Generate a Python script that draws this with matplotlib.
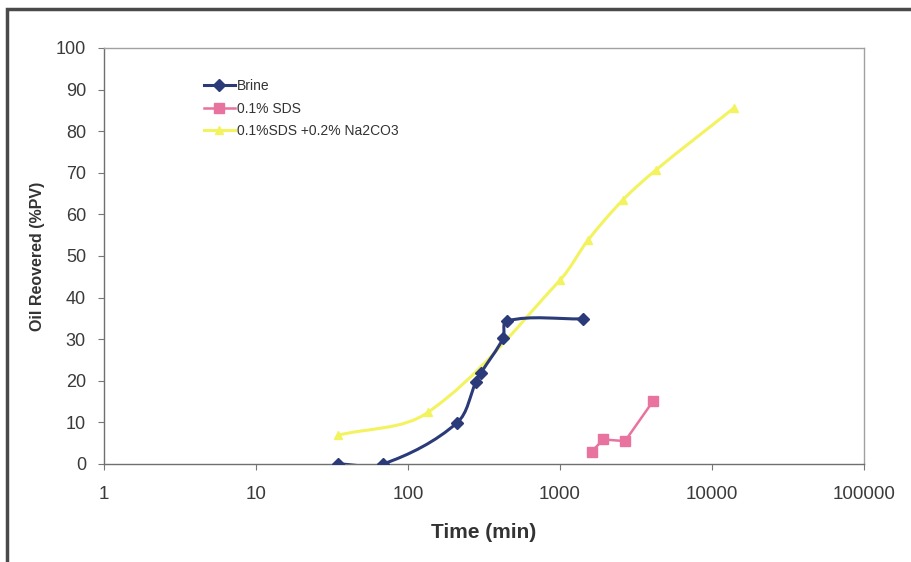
import numpy as np
import matplotlib
matplotlib.use('Agg')
import matplotlib.pyplot as plt
from matplotlib.path import Path
from matplotlib.patches import PathPatch, Rectangle
from matplotlib.lines import Line2D

plt.rcParams['font.family'] = ['Liberation Sans', 'DejaVu Sans']

# Data
brine_t = [34.6, 68.5, 210, 280, 302, 422, 448, 1417]
brine_r = [0.0, 0.0, 9.9, 19.7, 21.9, 30.2, 34.4, 34.9]
sds_t = [1617, 1928, 2677, 4111]
sds_r = [3.0, 5.9, 5.5, 15.2]
mix_t = [34.6, 135, 1000, 1528, 2596, 4285, 13960]
mix_r = [6.9, 12.4, 44.2, 53.8, 63.5, 70.7, 85.6]

labels = ['Brine', '0.1% SDS', '0.1%SDS +0.2% Na2CO3']
xticks = [1, 10, 100, 1000, 10000, 100000]
yticks = list(range(0, 101, 10))

c_brine = '#2b3a78'
c_sds = '#e8739f'
c_mix = '#f3f360'

W, H = 912, 562
fig = plt.figure(figsize=(W / 100, H / 100), dpi=100)
fig.patch.set_facecolor('white')
ax = fig.add_axes([104 / W, 1 - 464 / H, 760 / W, 416 / H])
ax.set_xscale('log')
ax.set_xlim(1, 100000)
ax.set_ylim(0, 100)

SX, SY = 152.0, 4.16


def smooth_path(xs, ys):
    u = np.log10(np.asarray(xs, float)) * SX
    v = np.asarray(ys, float) * SY
    P = np.column_stack([u, v])
    n = len(P)

    def unit(d):
        m = np.hypot(*d)
        return d / m if m > 0 else d

    tang = []
    for i in range(n):
        a = P[i - 1] if i > 0 else P[i]
        b = P[i + 1] if i < n - 1 else P[i]
        tang.append(unit(b - a))
    verts = [P[0]]
    codes = [Path.MOVETO]
    for i in range(n - 1):
        p1, p2 = P[i], P[i + 1]
        L = np.hypot(*(p2 - p1)) / 3.0
        c1 = p1 + tang[i] * L
        c2 = p2 - tang[i + 1] * L
        verts += [c1, c2, p2]
        codes += [Path.CURVE4] * 3
    verts = np.array(verts)
    data = np.column_stack([10 ** (verts[:, 0] / SX), verts[:, 1] / SY])
    return Path(data, codes)


ax.add_patch(PathPatch(smooth_path(mix_t, mix_r), fill=False, edgecolor=c_mix,
                       lw=2.2, transform=ax.transData, zorder=2))
ax.plot(mix_t, mix_r, ls='none', marker='^', ms=6, color=c_mix, zorder=3)

ax.add_patch(PathPatch(smooth_path(brine_t, brine_r), fill=False, edgecolor=c_brine,
                       lw=2.2, transform=ax.transData, zorder=4))
ax.plot(brine_t, brine_r, ls='none', marker='D', ms=6, color=c_brine, zorder=5)

ax.plot(sds_t, sds_r, ls='-', lw=1.8, marker='s', ms=6.5, color=c_sds, zorder=4)

ax.set_xticks(xticks)
ax.set_xticklabels([str(t) for t in xticks])
ax.set_yticks(yticks)
ax.set_yticklabels([str(t) for t in yticks])
ax.minorticks_off()
ax.tick_params(axis='both', which='major', direction='out', length=4.5, width=0.8,
               color='#777777', labelcolor='#3a3a3a')
ax.tick_params(axis='x', labelsize=13.5, pad=11.5)
ax.tick_params(axis='y', labelsize=13, pad=8.5)
for s in ['left', 'bottom']:
    ax.spines[s].set_color('#6f6f6f')
    ax.spines[s].set_linewidth(1.0)
for s in ['top', 'right']:
    ax.spines[s].set_color('#a0a0a0')
    ax.spines[s].set_linewidth(1.0)

ax.set_xlabel('Time (min)', fontsize=15, fontweight='bold', color='#333333', labelpad=14.5)
ax.set_ylabel('Oil Reovered (%PV)', fontsize=11.5, fontweight='bold', color='#333333', labelpad=8)

handles = [
    Line2D([], [], color=c_brine, lw=2.2, marker='D', ms=6),
    Line2D([], [], color=c_sds, lw=1.8, marker='s', ms=6.5),
    Line2D([], [], color=c_mix, lw=2.2, marker='^', ms=6),
]
leg = fig.legend(handles, labels, loc='upper left', bbox_to_anchor=(204 / W, 1 - 79 / H),
                 bbox_transform=fig.transFigure, frameon=False, fontsize=10,
                 handlelength=2.2, handletextpad=0.15, labelspacing=0.62,
                 borderpad=0, borderaxespad=0)
for t in leg.get_texts():
    t.set_color('#333333')

# outer chart frame (cropped on right and bottom)
fig.patches.append(Rectangle((7 / W, -0.05), 1.2, 1 - 9 / H + 0.05, transform=fig.transFigure,
                             fill=False, edgecolor='#4a4a4a', lw=2.5, zorder=0))

fig.savefig('out.png', dpi=100)
